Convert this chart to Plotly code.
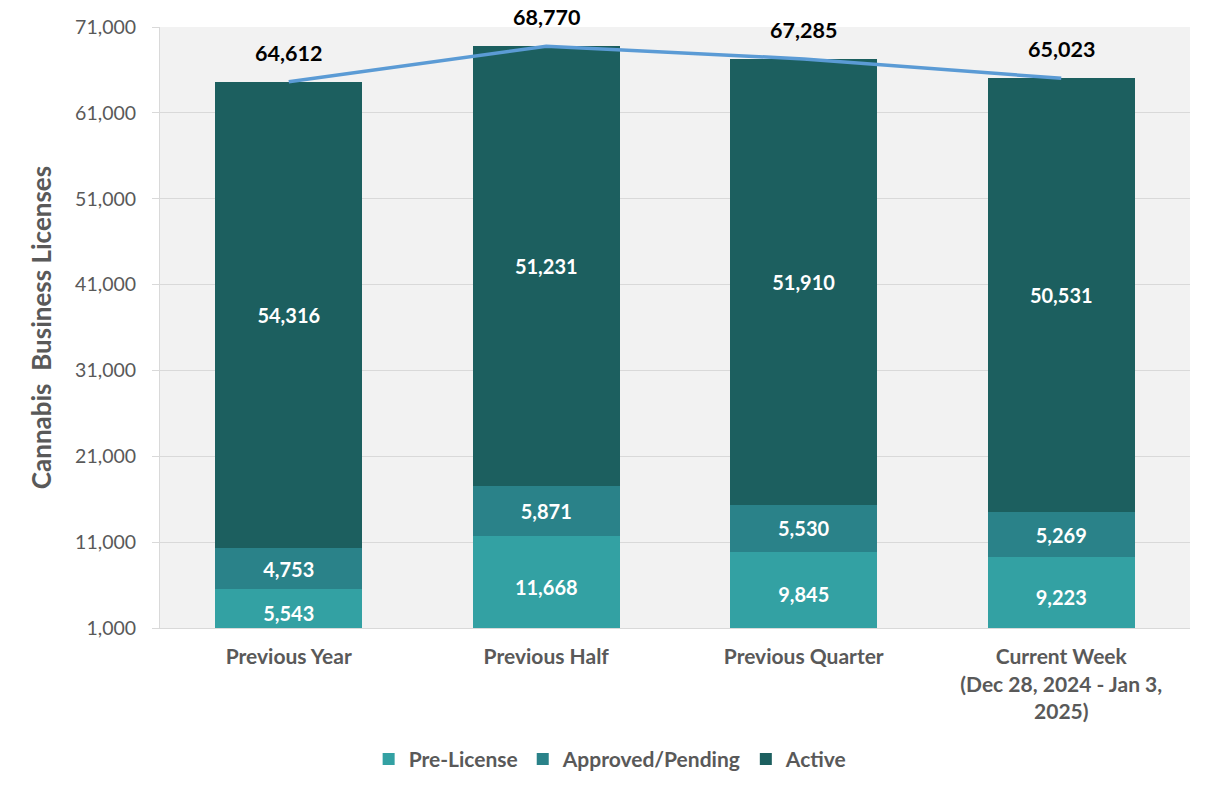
import plotly.graph_objects as go

categories = ["Previous Year", "Previous Half", "Previous Quarter",
              "Current Week<br>(Dec 28, 2024 - Jan 3,<br>2025)"]
pre_license = [5543, 11668, 9845, 9223]
approved_pending = [4753, 5871, 5530, 5269]
active = [54316, 51231, 51910, 50531]
totals = [64612, 68770, 67285, 65023]

FONT = "Lato"
GRAY = "#595959"

fig = go.Figure()
series = [
    ("Pre-License", pre_license, "#33a1a3"),
    ("Approved/Pending", approved_pending, "#2a8289"),
    ("Active", active, "#1c5f5f"),
]
for name, vals, col in series:
    fig.add_trace(go.Bar(
        x=categories, y=vals, name=name, marker=dict(color=col, line=dict(width=0)),
        text=[f"{v:,}" for v in vals], textposition="inside", insidetextanchor="middle",
        textfont=dict(family=FONT, size=20, color="white", weight="bold"),
        textangle=0, constraintext="none",
    ))

fig.add_trace(go.Scatter(
    x=categories, y=totals, mode="lines", name="Total", showlegend=False,
    line=dict(color="#5b9bd5", width=3.5), cliponaxis=False,
))

for c, t in zip(categories, totals):
    fig.add_annotation(x=c, y=t, text=f"<b>{t:,}</b>", showarrow=False,
                       yshift=29, font=dict(family=FONT, size=21.5, color="black"))

fig.update_layout(
    width=1214, height=795,
    barmode="stack", bargap=0.43,
    paper_bgcolor="white", plot_bgcolor="#f2f2f2",
    margin=dict(l=160, r=24, t=27, b=167, autoexpand=False),
    font=dict(family=FONT, color=GRAY),
    legend=dict(orientation="h", xref="container", yref="container",
                x=0.503, xanchor="center", y=0.045, yanchor="middle",
                font=dict(family=FONT, size=21, color=GRAY, weight="bold"),
                traceorder="normal", itemwidth=30),
    uniformtext=dict(mode=False),
)
fig.update_yaxes(
    range=[1000, 71000], dtick=10000, tick0=1000, tickformat=",",
    showgrid=True, gridcolor="#d9d9d9", gridwidth=1,
    showline=True, linecolor="#d9d9d9", ticks="outside", ticklen=7, tickcolor="#d9d9d9",
    tickfont=dict(family=FONT, size=19.5, color=GRAY),
    ticklabelstandoff=12, automargin=False,
    zeroline=False,
    title=dict(text="Cannabis\u00a0 Business Licenses", standoff=16,
               font=dict(family=FONT, size=26, color=GRAY, weight="bold")),
)
fig.update_xaxes(
    showline=True, linecolor="#d9d9d9", ticks="", automargin=False,
    tickfont=dict(family=FONT, size=21, color=GRAY, weight="bold"),
    ticklabelstandoff=10,
)

fig.write_html("out.html", config={"displayModeBar": False},
               post_script="document.body.style.margin='0px';")
